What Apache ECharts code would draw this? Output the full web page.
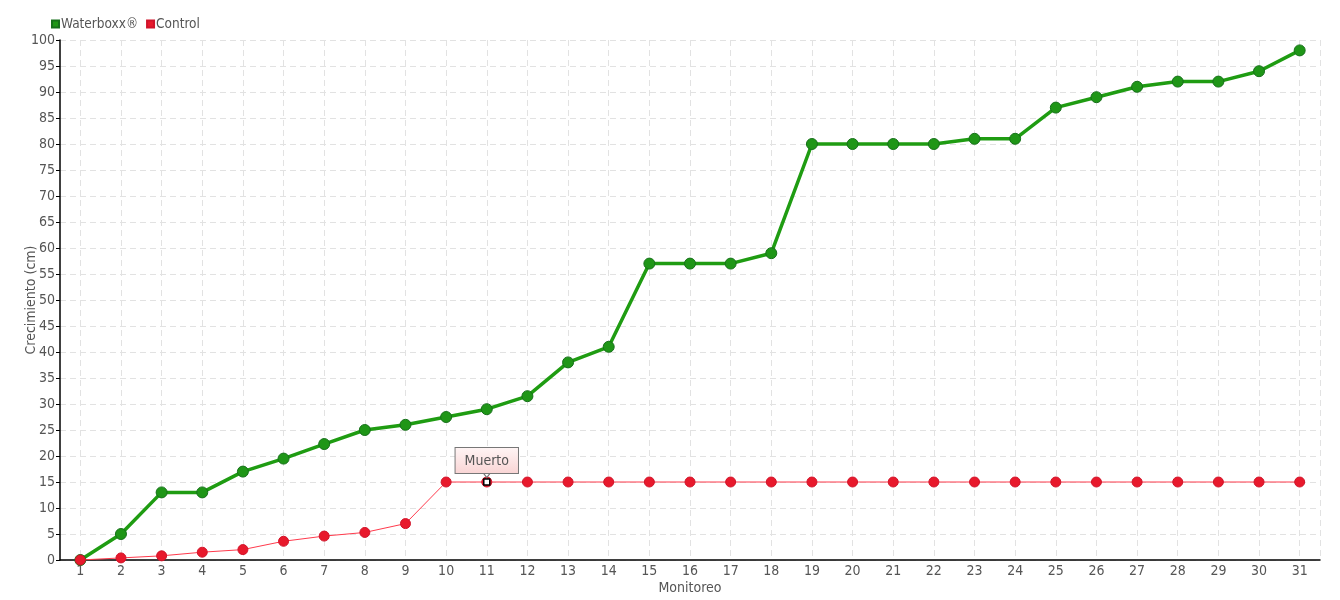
<!DOCTYPE html>
<html>
<head>
<meta charset="utf-8">
<script src="https://cdn.jsdelivr.net/npm/echarts@6/dist/echarts.min.js"></script>
<style>html,body{margin:0;padding:0;background:#fff;}#c{width:1340px;height:600px;}</style>
</head>
<body>
<div id="c"></div>
<script>
const categories = ['1','2','3','4','5','6','7','8','9','10','11','12','13','14','15','16','17','18','19','20','21','22','23','24','25','26','27','28','29','30','31'];
const waterboxx = [0, 5, 13, 13, 17, 19.5, 22.3, 25, 26, 27.5, 29, 31.5, 38, 41, 57, 57, 57, 59, 80, 80, 80, 80, 81, 81, 87, 89, 91, 92, 92, 94, 98];
const control = [0, 0.4, 0.8, 1.5, 2, 3.6, 4.6, 5.3, 7, 15, 15, 15, 15, 15, 15, 15, 15, 15, 15, 15, 15, 15, 15, 15, 15, 15, 15, 15, 15, 15, 15];
const yTicks = {min: 0, max: 100, interval: 5};
const markerIndex = 10;
const markerText = 'Muerto';

const FONT = "'DejaVu Sans Condensed', 'Liberation Sans Narrow', sans-serif";
const halfCats = Array.from({length: categories.length * 2}, (_, i) => String(i));

const chart = echarts.init(document.getElementById('c'));
chart.setOption({
  animation: false,
  textStyle: {fontFamily: FONT},
  legend: {
    left: 46, top: 12, icon: 'rect', itemWidth: 7, itemHeight: 7, itemGap: 8,
    textStyle: {fontFamily: FONT, fontSize: 13.5, color: '#555', padding: [0, 0, 0, -3]},
    data: ['Waterboxx®', 'Control']
  },
  grid: {left: 60, right: 20, top: 40, bottom: 40, outerBoundsMode: 'none', containLabel: false},
  xAxis: [{
    type: 'category', data: categories, boundaryGap: true,
    name: 'Monitoreo', nameLocation: 'middle', nameGap: 21, nameMoveOverlap: false,
    nameTextStyle: {fontFamily: FONT, fontSize: 14, color: '#555'},
    axisLine: {lineStyle: {color: '#000', width: 1.5}},
    axisTick: {alignWithLabel: true, length: 4, lineStyle: {color: '#000'}},
    axisLabel: {fontFamily: FONT, fontSize: 14, color: '#555', margin: 4, interval: 0},
    splitLine: {show: false}
  }, {
    type: 'category', data: halfCats, boundaryGap: true, position: 'bottom',
    axisLine: {show: false}, axisTick: {show: false}, axisLabel: {show: false},
    splitLine: {show: true, interval: (idx) => idx % 2 === 1,
      lineStyle: {color: '#e2e2e2', type: [6, 4], width: 1}}
  }],
  yAxis: {
    type: 'value', min: yTicks.min, max: yTicks.max, interval: yTicks.interval,
    name: 'Crecimiento (cm)', nameLocation: 'middle', nameGap: 22, nameRotate: 90, nameMoveOverlap: false,
    nameTextStyle: {fontFamily: FONT, fontSize: 14, color: '#555'},
    axisLine: {show: true, lineStyle: {color: '#000', width: 1.5}},
    axisTick: {show: true, length: 4, lineStyle: {color: '#000'}},
    axisLabel: {fontFamily: FONT, fontSize: 14, color: '#555', margin: 5},
    splitLine: {show: true, lineStyle: {color: '#e2e2e2', type: [6, 4], width: 1}}
  },
  series: [{
    name: 'Waterboxx®', type: 'line', xAxisIndex: 0, data: waterboxx,
    symbol: 'circle', symbolSize: 11, z: 3,
    lineStyle: {color: '#1f9c12', width: 3.5},
    itemStyle: {color: '#1f9617', borderColor: '#16701a', borderWidth: 1}
  }, {
    name: 'Control', type: 'line', xAxisIndex: 0, data: control,
    symbol: 'circle', symbolSize: 10, z: 4,
    lineStyle: {color: '#ff3a4c', width: 1},
    itemStyle: {color: '#e8192c', borderColor: '#d0142a', borderWidth: 1},
    markPoint: {
      animation: false,
      data: [{
        coord: [markerIndex, control[markerIndex]],
        symbol: 'rect', symbolSize: 6,
        itemStyle: {color: '#fff', borderColor: '#000', borderWidth: 1.5},
        label: {show: false}
      }, {
        coord: [markerIndex, control[markerIndex]],
        symbol: 'triangle', symbolRotate: 180, symbolSize: [8, 5], symbolOffset: [0, -7],
        itemStyle: {color: '#fff', borderColor: '#777', borderWidth: 1},
        label: {
          show: true, position: 'top', distance: -1, formatter: markerText,
          fontFamily: FONT, fontSize: 14, color: '#555',
          backgroundColor: {type: 'linear', x: 0, y: 0, x2: 0, y2: 1,
            colorStops: [{offset: 0, color: '#fff5f5'}, {offset: 1, color: '#f9d4d4'}]},
          borderColor: '#777', borderWidth: 1, padding: [6, 9, 5, 9]
        }
      }]
    }
  }],
  color: ['#1f9c12', '#e8192c']
});
</script>
</body>
</html>
